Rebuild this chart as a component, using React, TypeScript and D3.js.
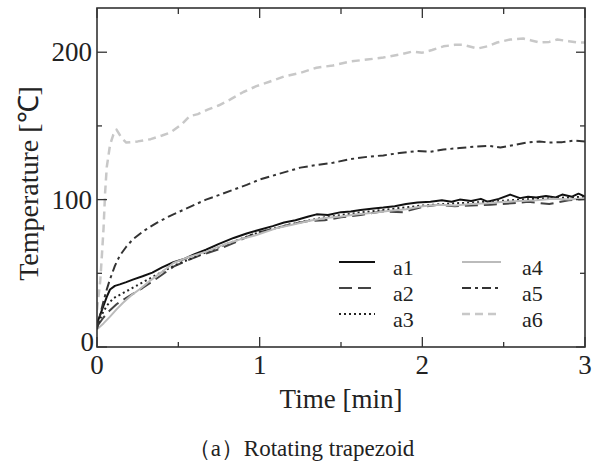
import React from "react";
import * as d3 from "d3";

// time [min] and temperature [°C] per thermocouple
const a1T = [0, 0.02, 0.04, 0.06, 0.08, 0.11, 0.14, 0.18, 0.22, 0.28, 0.34, 0.4, 0.47, 0.53, 0.6, 0.67, 0.75, 0.84, 0.92, 1.0, 1.08, 1.15, 1.22, 1.3, 1.35, 1.42, 1.5, 1.56, 1.62, 1.7, 1.76, 1.83, 1.9, 1.97, 2.05, 2.12, 2.18, 2.23, 2.3, 2.36, 2.4, 2.47, 2.54, 2.6, 2.65, 2.7, 2.76, 2.82, 2.86, 2.92, 2.96, 3.0];
const a1V = [16, 22, 28, 34, 39, 41.5, 42.5, 44, 45.7, 48, 50.5, 54, 57.5, 59.5, 63, 66, 70, 74, 77, 79.6, 82, 84.5, 86, 88.5, 90, 89.5, 91.5, 92, 93, 94, 94.6, 95.5, 97, 98, 98.6, 99.5, 98.5, 100, 99, 100.5, 98.6, 100.5, 103.4, 101, 102, 101.4, 102.5, 101.5, 103.4, 102, 104, 102];

const a2T = [0, 0.04, 0.08, 0.12, 0.16, 0.22, 0.28, 0.33, 0.4, 0.47, 0.55, 0.63, 0.74, 0.85, 0.98, 1.08, 1.2, 1.3, 1.4, 1.5, 1.62, 1.75, 1.88, 2.0, 2.1, 2.2, 2.3, 2.42, 2.55, 2.65, 2.78, 2.9, 3.0];
const a2V = [14, 20, 25, 29, 32, 36, 40, 43.7, 49, 54.5, 58.5, 62, 66, 71, 77.6, 80, 83.5, 85.5, 86, 88, 89.5, 92, 91.5, 95, 96.5, 95.5, 96, 96.5, 97.5, 98.5, 97, 99.5, 100.5];

const a3T = [0, 0.03, 0.06, 0.1, 0.15, 0.2, 0.3, 0.4, 0.5, 0.6, 0.7, 0.8, 0.9, 1.0, 1.2, 1.4, 1.6, 1.8, 2.0, 2.2, 2.4, 2.6, 2.8, 3.0];
const a3V = [13, 22, 28, 33, 36, 39, 45, 51, 56.5, 61, 65.5, 70, 74, 78, 83.5, 88, 91, 93.5, 96, 97.5, 98.5, 100, 101, 102];

const a4T = [0, 0.04, 0.08, 0.12, 0.16, 0.21, 0.26, 0.32, 0.4, 0.47, 0.55, 0.67, 0.78, 0.88, 0.98, 1.1, 1.2, 1.3, 1.4, 1.5, 1.6, 1.7, 1.8, 1.9, 2.0, 2.1, 2.2, 2.3, 2.4, 2.5, 2.6, 2.7, 2.8, 2.9, 3.0];
const a4V = [12, 16, 20.6, 25.5, 30, 35, 39, 44.5, 51, 57, 60.5, 64.7, 69.5, 73, 76, 80.5, 83, 85.5, 87.5, 88.5, 90, 91, 92.5, 93.5, 95.5, 96.5, 96, 97, 97.5, 98.5, 99, 99.5, 100.5, 100, 101];

const a5T = [0, 0.02, 0.04, 0.06, 0.08, 0.11, 0.14, 0.18, 0.22, 0.29, 0.37, 0.45, 0.53, 0.6, 0.67, 0.76, 0.84, 0.92, 1.0, 1.12, 1.25, 1.35, 1.45, 1.56, 1.66, 1.76, 1.86, 1.97, 2.05, 2.13, 2.23, 2.33, 2.41, 2.48, 2.56, 2.64, 2.72, 2.78, 2.86, 2.93, 3.0];
const a5V = [12, 22, 31, 39, 46, 55, 62, 68, 73, 79, 84.4, 89, 93, 96.5, 100, 103.5, 106.8, 110, 113.6, 117.5, 121.7, 123.5, 125, 127.5, 129, 130, 131.6, 133, 132.5, 134, 135, 136, 136.5, 135.3, 137, 138.7, 139.5, 138.7, 139, 140, 139.4];

const a6T = [0, 0.01, 0.02, 0.03, 0.04, 0.05, 0.06, 0.08, 0.1, 0.12, 0.15, 0.18, 0.25, 0.33, 0.4, 0.45, 0.52, 0.57, 0.62, 0.68, 0.75, 0.82, 0.9, 0.98, 1.06, 1.15, 1.25, 1.35, 1.45, 1.56, 1.66, 1.76, 1.86, 1.94, 2.0, 2.06, 2.13, 2.2, 2.25, 2.34, 2.4, 2.46, 2.54, 2.62, 2.67, 2.72, 2.78, 2.83, 2.9, 2.96, 3.0];
const a6V = [25, 35, 45, 62, 80, 105, 122, 137, 144, 147.5, 142, 138.7, 139.5, 141, 143.5, 145.5, 151, 156.6, 158, 161, 164, 168, 173, 177, 180, 183.5, 186, 189.5, 191, 193.8, 195, 196.4, 198.4, 200.5, 199.7, 201.5, 204, 205, 205, 202.5, 204, 206.6, 208.6, 209.3, 208, 206.6, 207, 208.6, 207.5, 206.6, 206.6];

const xMajor = [0, 1, 2, 3];
const xMinor = [0.5, 1.5, 2.5];
const yMajor = [0, 100, 200];
const yMinor = [50, 150];

const series = [
  { name: "a1", t: a1T, v: a1V, color: "#111", width: 2, dash: "none" },
  { name: "a2", t: a2T, v: a2V, color: "#444", width: 2, dash: "13,6" },
  { name: "a3", t: a3T, v: a3V, color: "#222", width: 2, dash: "2,3" },
  { name: "a4", t: a4T, v: a4V, color: "#bbb", width: 2, dash: "none" },
  { name: "a5", t: a5T, v: a5V, color: "#333", width: 2, dash: "9,4,3,4" },
  { name: "a6", t: a6T, v: a6V, color: "#c8c8c8", width: 2.5, dash: "8,5" },
];

const W = 601;
const H = 468;
const left = 97, right = 585, top = 8, bottom = 347;
const font = "'Liberation Serif', 'Times New Roman', serif";

export default function App() {
  const x = d3.scaleLinear().domain([0, 3]).range([left, right]);
  const y = d3.scaleLinear().domain([0, 230]).range([bottom, top]);
  const line = d3.line<[number, number]>().x((d) => x(d[0])).y((d) => y(d[1]));

  const axisColor = "#333";

  return (
    <svg width={W} height={H} style={{ position: "absolute", left: 0, top: 0, background: "#fff" }} fontFamily={font}>
      <defs>
        <clipPath id="plot">
          <rect x={left} y={top} width={right - left} height={bottom - top} />
        </clipPath>
      </defs>

      {/* curves */}
      <g clipPath="url(#plot)" fill="none" strokeLinejoin="round">
        {series.map((s) => (
          <path
            key={s.name}
            d={line(s.t.map((t, i) => [t, s.v[i]] as [number, number])) || ""}
            stroke={s.color}
            strokeWidth={s.width}
            strokeDasharray={s.dash === "none" ? undefined : s.dash}
          />
        ))}
      </g>

      {/* frame */}
      <rect x={left} y={top} width={right - left} height={bottom - top} fill="none" stroke={axisColor} strokeWidth={1.6} />

      {/* ticks on all four sides, pointing inward */}
      {xMajor.map((t) => (
        <g key={"xM" + t} stroke={axisColor} strokeWidth={1.3}>
          <line x1={x(t)} x2={x(t)} y1={bottom} y2={bottom - 10} />
          <line x1={x(t)} x2={x(t)} y1={top} y2={top + 10} />
        </g>
      ))}
      {xMinor.map((t) => (
        <g key={"xm" + t} stroke={axisColor} strokeWidth={1.3}>
          <line x1={x(t)} x2={x(t)} y1={bottom} y2={bottom - 5} />
          <line x1={x(t)} x2={x(t)} y1={top} y2={top + 6} />
        </g>
      ))}
      {yMajor.map((v) => (
        <g key={"yM" + v} stroke={axisColor} strokeWidth={1.3}>
          <line x1={left} x2={left + 10} y1={y(v)} y2={y(v)} />
          <line x1={right} x2={right - 9} y1={y(v)} y2={y(v)} />
        </g>
      ))}
      {yMinor.map((v) => (
        <g key={"ym" + v} stroke={axisColor} strokeWidth={1.3}>
          <line x1={left} x2={left + 5} y1={y(v)} y2={y(v)} />
          <line x1={right} x2={right - 5} y1={y(v)} y2={y(v)} />
        </g>
      ))}

      {/* tick labels */}
      {xMajor.map((t) => (
        <text key={"xl" + t} x={x(t)} y={374} textAnchor="middle" fontSize={27} fill="#222">
          {t}
        </text>
      ))}
      {yMajor.map((v) => (
        <text key={"yl" + v} x={v === 0 ? 94 : 92} y={y(v) + (v === 0 ? 4 : 9)} textAnchor="end" fontSize={27} fill="#222">
          {v}
        </text>
      ))}

      {/* axis titles */}
      <text x={(left + right) / 2} y={408} textAnchor="middle" fontSize={27} fill="#222">
        Time [min]
      </text>
      <text
        transform={`translate(38,${(top + bottom) / 2 + 6}) rotate(-90)`}
        textAnchor="middle"
        fontSize={28}
        fill="#222"
      >
        Temperature [℃]
      </text>

      {/* legend */}
      {series.map((s, i) => {
        const col = Math.floor(i / 3);
        const row = i % 3;
        const lx = col === 0 ? 339 : 462;
        const lw = col === 0 ? 36 : 39;
        const tx = col === 0 ? 393 : 522;
        const base = 275 + row * 26;
        return (
          <g key={"lg" + s.name}>
            <line
              x1={lx}
              x2={lx + lw}
              y1={base - 13}
              y2={base - 13}
              stroke={s.color}
              strokeWidth={s.width}
              strokeDasharray={s.dash === "none" ? undefined : s.dash}
            />
            <text x={tx} y={base} fontSize={22} fill="#222">
              {s.name}
            </text>
          </g>
        );
      })}

      {/* caption */}
      <text x={301} y={456} textAnchor="middle" fontSize={23} fill="#222">
        （a）Rotating trapezoid
      </text>
    </svg>
  );
}
